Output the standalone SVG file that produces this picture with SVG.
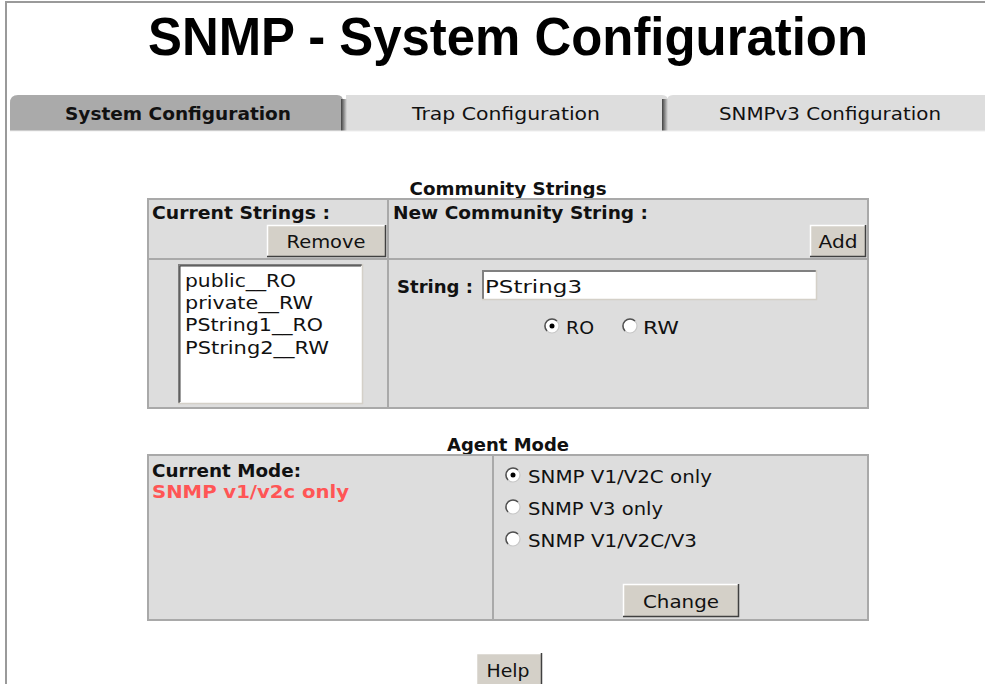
<svg xmlns="http://www.w3.org/2000/svg" width="985" height="684" viewBox="0 0 985 684">
<defs>
<style>
.t{font-family:"DejaVu Sans",Verdana,sans-serif;font-size:18.5px;fill:#111}
.b{font-family:"DejaVu Sans",Verdana,sans-serif;font-size:18px;font-weight:bold;fill:#111}
.tbl{fill:#dddddd;stroke:#a9a9a9;stroke-width:2}
.div{stroke:#a9a9a9;stroke-width:2}
.btn{fill:#d4d0c8}
.hl{stroke:#ffffff;stroke-width:1.5;fill:none}
.sh{stroke:#404040;stroke-width:1.5;fill:none}
.rad{fill:#ffffff;stroke:#c8c8c8;stroke-width:1.2}
.radi{fill:none;stroke:#505050;stroke-width:1.5}
</style>
<linearGradient id="tabsh" x1="0" x2="1" y1="0" y2="0">
<stop offset="0" stop-color="#404040"/>
<stop offset="1" stop-color="#dddddd"/>
</linearGradient>
</defs>
<rect width="985" height="684" fill="#ffffff"/>
<g id="frame">
<path d="M6,684 V2 H985" fill="none" stroke="#9a9a9a" stroke-width="2"/>
</g>
<g id="title">
<text x="508" y="55" text-anchor="middle" font-family="'Liberation Sans',Arial,sans-serif" font-weight="bold" font-size="53" textLength="720" lengthAdjust="spacingAndGlyphs" fill="#000">SNMP - System Configuration</text>
</g>
<g id="tabs">
<path d="M667,131 V101 Q667,95 673,95 H985 V131 Z" fill="#dddddd"/>
<path d="M346,131 V95 H662 Q668,95 668,101 V131 Z" fill="#dddddd"/>
<rect x="662" y="99" width="6" height="32" fill="url(#tabsh)"/>
<path d="M10,131 V103 Q10,95 18,95 H337 Q343,95 343,101 V131 Z" fill="#aaaaaa"/>
<rect x="341" y="99" width="6" height="32" fill="url(#tabsh)"/>
<line x1="10" y1="131" x2="985" y2="131" stroke="#eeeeee" stroke-width="1"/>
<text class="b" x="178" y="120" text-anchor="middle" textLength="226" lengthAdjust="spacingAndGlyphs">System Configuration</text>
<text class="t" x="506" y="120" text-anchor="middle" textLength="188" lengthAdjust="spacingAndGlyphs">Trap Configuration</text>
<text class="t" x="830" y="120" text-anchor="middle" textLength="222" lengthAdjust="spacingAndGlyphs">SNMPv3 Configuration</text>
</g>
<g id="community-strings">
<text class="b" x="508" y="195" text-anchor="middle" textLength="197" lengthAdjust="spacingAndGlyphs">Community Strings</text>
<rect class="tbl" x="148" y="199" width="720" height="209"/>
<line class="div" x1="148" y1="259" x2="868" y2="259"/>
<line class="div" x1="388" y1="199" x2="388" y2="408"/>
<text class="b" x="152" y="219" textLength="178" lengthAdjust="spacingAndGlyphs">Current Strings :</text>
<text class="b" x="393" y="219" textLength="255" lengthAdjust="spacingAndGlyphs">New Community String :</text>
<g id="btn-remove">
<rect class="btn" x="267" y="225" width="119" height="32"/>
<path class="hl" d="M267.5,256 V225.5 H385"/>
<path class="sh" d="M267,256.5 H385.5 V225"/>
<text class="t" x="326" y="248" text-anchor="middle" textLength="79" lengthAdjust="spacingAndGlyphs">Remove</text>
</g>
<g id="btn-add">
<rect class="btn" x="810" y="225" width="56" height="32"/>
<path class="hl" d="M810.5,256 V225.5 H865"/>
<path class="sh" d="M810,256.5 H865.5 V225"/>
<text class="t" x="838" y="248" text-anchor="middle" textLength="39" lengthAdjust="spacingAndGlyphs">Add</text>
</g>
<g id="list">
<rect x="178" y="264" width="185" height="140" fill="#ffffff"/>
<path d="M179,403 V265 H362" fill="none" stroke="#808080" stroke-width="2"/>
<path d="M180,402 V266 H361" fill="none" stroke="#404040" stroke-width="1"/>
<path d="M178,403.5 H362.5 V264" fill="none" stroke="#d4d0c8" stroke-width="1.5"/>
<text class="t" x="185" y="287" textLength="111" lengthAdjust="spacingAndGlyphs">public__RO</text>
<text class="t" x="185" y="309" textLength="128" lengthAdjust="spacingAndGlyphs">private__RW</text>
<text class="t" x="185" y="331" textLength="138" lengthAdjust="spacingAndGlyphs">PString1__RO</text>
<text class="t" x="185" y="354" textLength="144" lengthAdjust="spacingAndGlyphs">PString2__RW</text>
</g>
<text class="b" x="397" y="293" textLength="76" lengthAdjust="spacingAndGlyphs">String :</text>
<g id="input-string">
<rect x="482" y="270" width="335" height="30" fill="#ffffff"/>
<path d="M483,299 V271 H816" fill="none" stroke="#808080" stroke-width="2"/>
<path d="M482,299.5 H816.5 V270" fill="none" stroke="#d4d0c8" stroke-width="1.5"/>
<text class="t" x="485" y="293" textLength="97" lengthAdjust="spacingAndGlyphs">PString3</text>
</g>
<g id="radio-ro">
<circle class="rad" cx="552" cy="326" r="7"/>
<path class="radi" d="M547,331 A7,7 0 0 1 557,321"/>
<circle cx="552" cy="326" r="2.5" fill="#000"/>
<text class="t" x="566" y="334" textLength="28" lengthAdjust="spacingAndGlyphs">RO</text>
</g>
<g id="radio-rw">
<circle class="rad" cx="630" cy="326" r="7"/>
<path class="radi" d="M625,331 A7,7 0 0 1 635,321"/>
<text class="t" x="643" y="334" textLength="36" lengthAdjust="spacingAndGlyphs">RW</text>
</g>
</g>
<g id="agent-mode">
<text class="b" x="508" y="451" text-anchor="middle" textLength="122" lengthAdjust="spacingAndGlyphs">Agent Mode</text>
<rect class="tbl" x="148" y="455" width="720" height="165"/>
<line class="div" x1="493" y1="455" x2="493" y2="620"/>
<text class="b" x="152" y="477" textLength="149" lengthAdjust="spacingAndGlyphs">Current Mode:</text>
<text class="b" x="152" y="498" textLength="197" lengthAdjust="spacingAndGlyphs" style="fill:#ff5555">SNMP v1/v2c only</text>
<g id="radio-v1v2c">
<circle class="rad" cx="513" cy="475" r="7"/>
<path class="radi" d="M508,480 A7,7 0 0 1 518,470"/>
<circle cx="513" cy="475" r="2.5" fill="#000"/>
<text class="t" x="528" y="483" textLength="184" lengthAdjust="spacingAndGlyphs">SNMP V1/V2C only</text>
</g>
<g id="radio-v3">
<circle class="rad" cx="513" cy="507" r="7"/>
<path class="radi" d="M508,512 A7,7 0 0 1 518,502"/>
<text class="t" x="528" y="515" textLength="135" lengthAdjust="spacingAndGlyphs">SNMP V3 only</text>
</g>
<g id="radio-all">
<circle class="rad" cx="513" cy="539" r="7"/>
<path class="radi" d="M508,544 A7,7 0 0 1 518,534"/>
<text class="t" x="528" y="547" textLength="169" lengthAdjust="spacingAndGlyphs">SNMP V1/V2C/V3</text>
</g>
<g id="btn-change">
<rect class="btn" x="623" y="584" width="116" height="33"/>
<path class="hl" d="M623.5,616 V584.5 H738"/>
<path class="sh" d="M623,616.5 H738.5 V584"/>
<text class="t" x="681" y="608" text-anchor="middle" textLength="76" lengthAdjust="spacingAndGlyphs">Change</text>
</g>
</g>
<g id="btn-help">
<rect class="btn" x="476" y="653" width="66" height="33"/>
<path class="hl" d="M476.5,686 V653.5 H541"/>
<path class="sh" d="M541.5,653 V686"/>
<text class="t" x="508" y="677" text-anchor="middle" textLength="43" lengthAdjust="spacingAndGlyphs">Help</text>
</g>
</svg>
